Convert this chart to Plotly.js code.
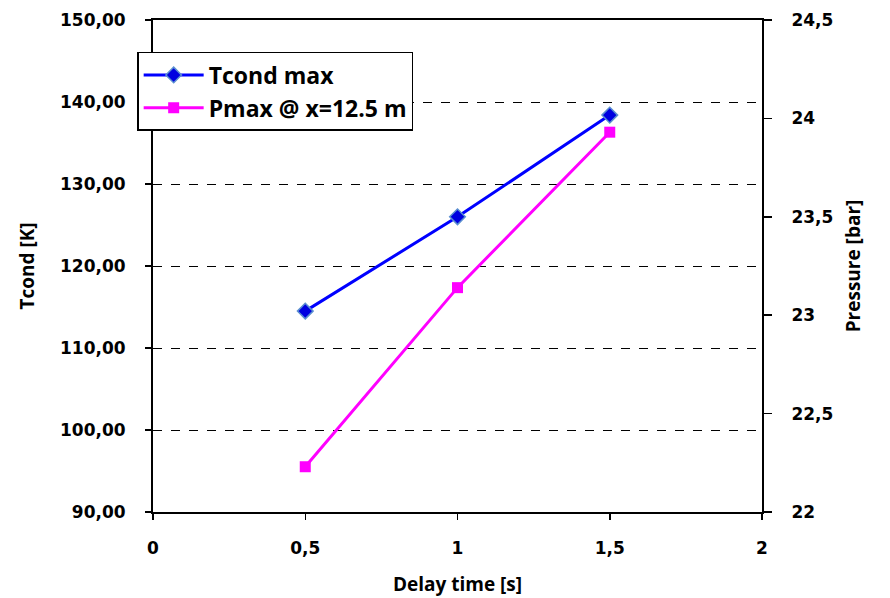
<!DOCTYPE html>
<html>
<head>
<meta charset="utf-8">
<script src="https://cdn.plot.ly/plotly-3.0.1.min.js"></script>
<style>html,body{margin:0;padding:0;background:#fff}#chart{width:890px;height:598px}</style>
</head>
<body>
<div id="chart"></div>
<script>
const delayTime = [0.5, 1, 1.5];
const tcondMax = [114.5, 126.0, 138.4];
const pMax = [22.23, 23.14, 23.93];
const seriesNames = ["Tcond max", "Pmax @ x=12.5 m"];

const tickFont = {family: "DejaVu Sans, Verdana, sans-serif", size: 17, color: "#000", weight: "bold"};
const titleFont = {family: "Open Sans, sans-serif", size: 19, color: "#000", weight: 700};

const traces = [
  {x: delayTime, y: tcondMax, name: seriesNames[0], type: "scatter", mode: "lines+markers",
   line: {color: "#0000FF", width: 3},
   marker: {symbol: "diamond", size: 12, color: "#0000E0", line: {color: "#5B8FD0", width: 1.5}},
   yaxis: "y"},
  {x: delayTime, y: pMax, name: seriesNames[1], type: "scatter", mode: "lines+markers",
   line: {color: "#FF00FF", width: 3},
   marker: {symbol: "square", size: 11, color: "#FF00FF"},
   yaxis: "y2"}
];

const layout = {
  width: 890, height: 598,
  margin: {l: 153, r: 128, t: 20, b: 86},
  paper_bgcolor: "#fff", plot_bgcolor: "#fff",
  separators: ", ",
  showlegend: true,
  legend: {x: -0.026, y: 0.935, xanchor: "left", yanchor: "top",
    bordercolor: "#000", borderwidth: 1.5, bgcolor: "#fff",
    font: {family: "Open Sans, sans-serif", size: 23, color: "#000", weight: 700},
    itemwidth: 60, tracegroupgap: 12},
  xaxis: {range: [0, 2], dtick: 0.5, tick0: 0, showgrid: false, zeroline: false,
    showline: true, linecolor: "#000", linewidth: 2, mirror: true,
    ticks: "outside", ticklen: 6, tickwidth: 1.5, tickcolor: "#000",
    ticklabelstandoff: 14,
    tickfont: tickFont,
    title: {text: "Delay time [s]", font: titleFont, standoff: 20}},
  yaxis: {range: [90, 150], dtick: 10, tick0: 90, tickformat: ".2f",
    showgrid: true, gridcolor: "#000", gridwidth: 1, griddash: "dash", zeroline: false,
    showline: true, linecolor: "#000", linewidth: 2,
    ticks: "outside", ticklen: 6, tickwidth: 1.5, tickcolor: "#000",
    ticklabelstandoff: 16,
    tickfont: tickFont,
    title: {text: "Tcond [K]", font: titleFont, standoff: 20}},
  yaxis2: {range: [22, 24.5], dtick: 0.5, tick0: 22, overlaying: "y", side: "right",
    showgrid: false, zeroline: false,
    showline: true, linecolor: "#000", linewidth: 2,
    ticks: "outside", ticklen: 8, tickwidth: 1.5, tickcolor: "#000",
    ticklabelstandoff: 16,
    tickfont: tickFont,
    title: {text: "Pressure [bar]", font: titleFont, standoff: 14}}
};

Plotly.newPlot("chart", traces, layout, {displayModeBar: false, staticPlot: true});
</script>
</body>
</html>
